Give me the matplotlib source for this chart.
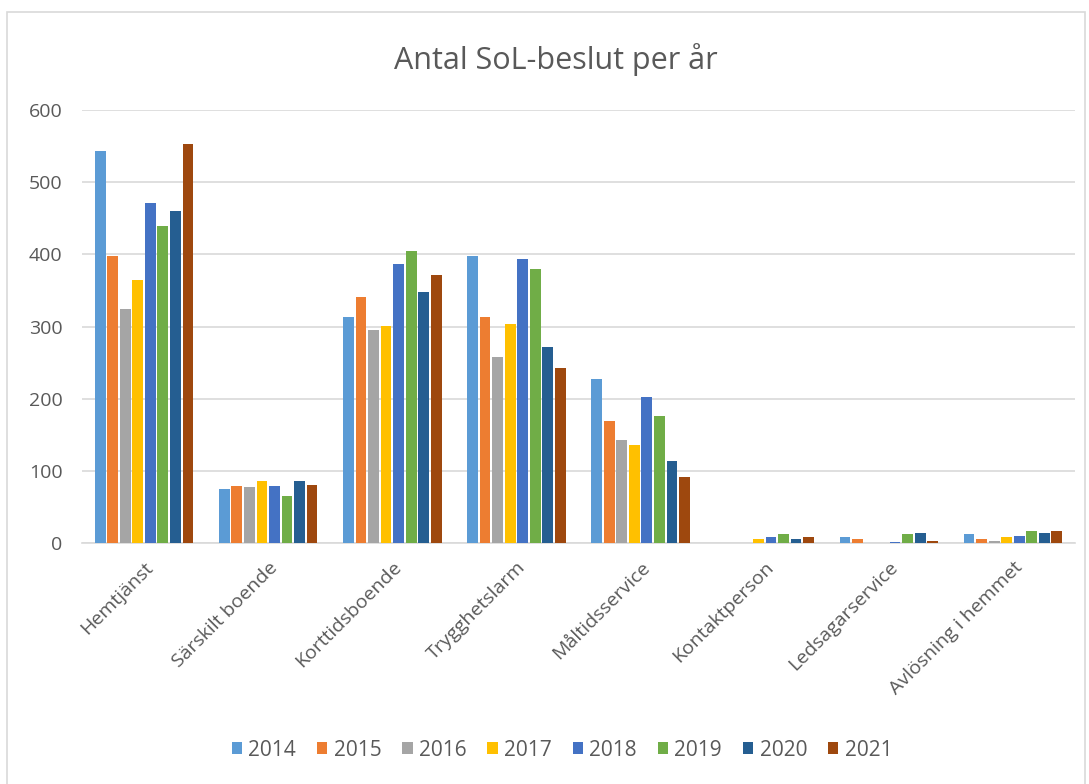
import numpy as np
import matplotlib.pyplot as plt
from matplotlib.patches import Rectangle

plt.rcParams['font.family'] = ['Open Sans', 'DejaVu Sans']

categories = ["Hemtjänst", "Särskilt boende", "Korttidsboende", "Trygghetslarm",
              "Måltidsservice", "Kontaktperson", "Ledsagarservice", "Avlösning i hemmet"]
years = ["2014", "2015", "2016", "2017", "2018", "2019", "2020", "2021"]

v2014 = [543, 75, 313, 397, 227, 0, 8, 12]
v2015 = [397, 79, 341, 313, 169, 0, 5, 6]
v2016 = [324, 77, 295, 258, 143, 0, 0, 3]
v2017 = [364, 86, 301, 303, 136, 5, 0, 8]
v2018 = [471, 79, 387, 393, 202, 8, 2, 10]
v2019 = [439, 65, 404, 379, 176, 12, 12, 17]
v2020 = [460, 86, 348, 272, 113, 6, 14, 14]
v2021 = [553, 81, 371, 242, 91, 8, 3, 17]
series = [v2014, v2015, v2016, v2017, v2018, v2019, v2020, v2021]

colors = ["#5B9BD5", "#ED7D31", "#A5A5A5", "#FFC000",
          "#4472C4", "#70AD47", "#255E91", "#9E480E"]

fig = plt.figure(figsize=(10.89, 7.84), dpi=100)
# chart border like Excel
fig.patches.append(Rectangle((7/1089, -0.01), 1078/1089, 1 - 12/784 + 0.01,
                             transform=fig.transFigure, fill=False,
                             edgecolor="#D9D9D9", linewidth=1.2))

ax = fig.add_axes([82/1089, 1 - 543/784, 993/1089, 433/784])
x = np.arange(len(categories))
step = 0.101
w = 0.087
for i, (vals, yr) in enumerate(zip(series, years)):
    ax.bar(x + (i - 3.5) * step, vals, width=w, color=colors[i], label=yr, zorder=3)

ax.set_xlim(-0.5, len(categories) - 0.5)
ax.set_ylim(0, 600)
ax.set_yticks(range(0, 601, 100))
ax.grid(axis="y", color="#D9D9D9", linewidth=1.2, zorder=0)
for s in ["top", "right", "left"]:
    ax.spines[s].set_visible(False)
ax.spines["bottom"].set_color("#D9D9D9")
ax.spines["bottom"].set_linewidth(1.2)
ax.tick_params(axis="both", length=0, colors="#595959", labelsize=14)
ax.tick_params(axis="y", pad=14)
ax.tick_params(axis="x", pad=11)
ax.set_xticks(x)
ax.set_xticklabels(categories, rotation=45, ha="right", rotation_mode="anchor")

fig.text(0.51, 1 - 60/784, "Antal SoL-beslut per år", ha="center", va="center",
         fontsize=22, color="#595959")

fig.legend(loc="center", bbox_to_anchor=(0.516, 1 - 750/784), ncol=8, frameon=False,
           fontsize=15, labelcolor="#595959", handlelength=0.5, handleheight=0.5,
           handletextpad=0.3, columnspacing=1.0)

plt.savefig("out.png")
